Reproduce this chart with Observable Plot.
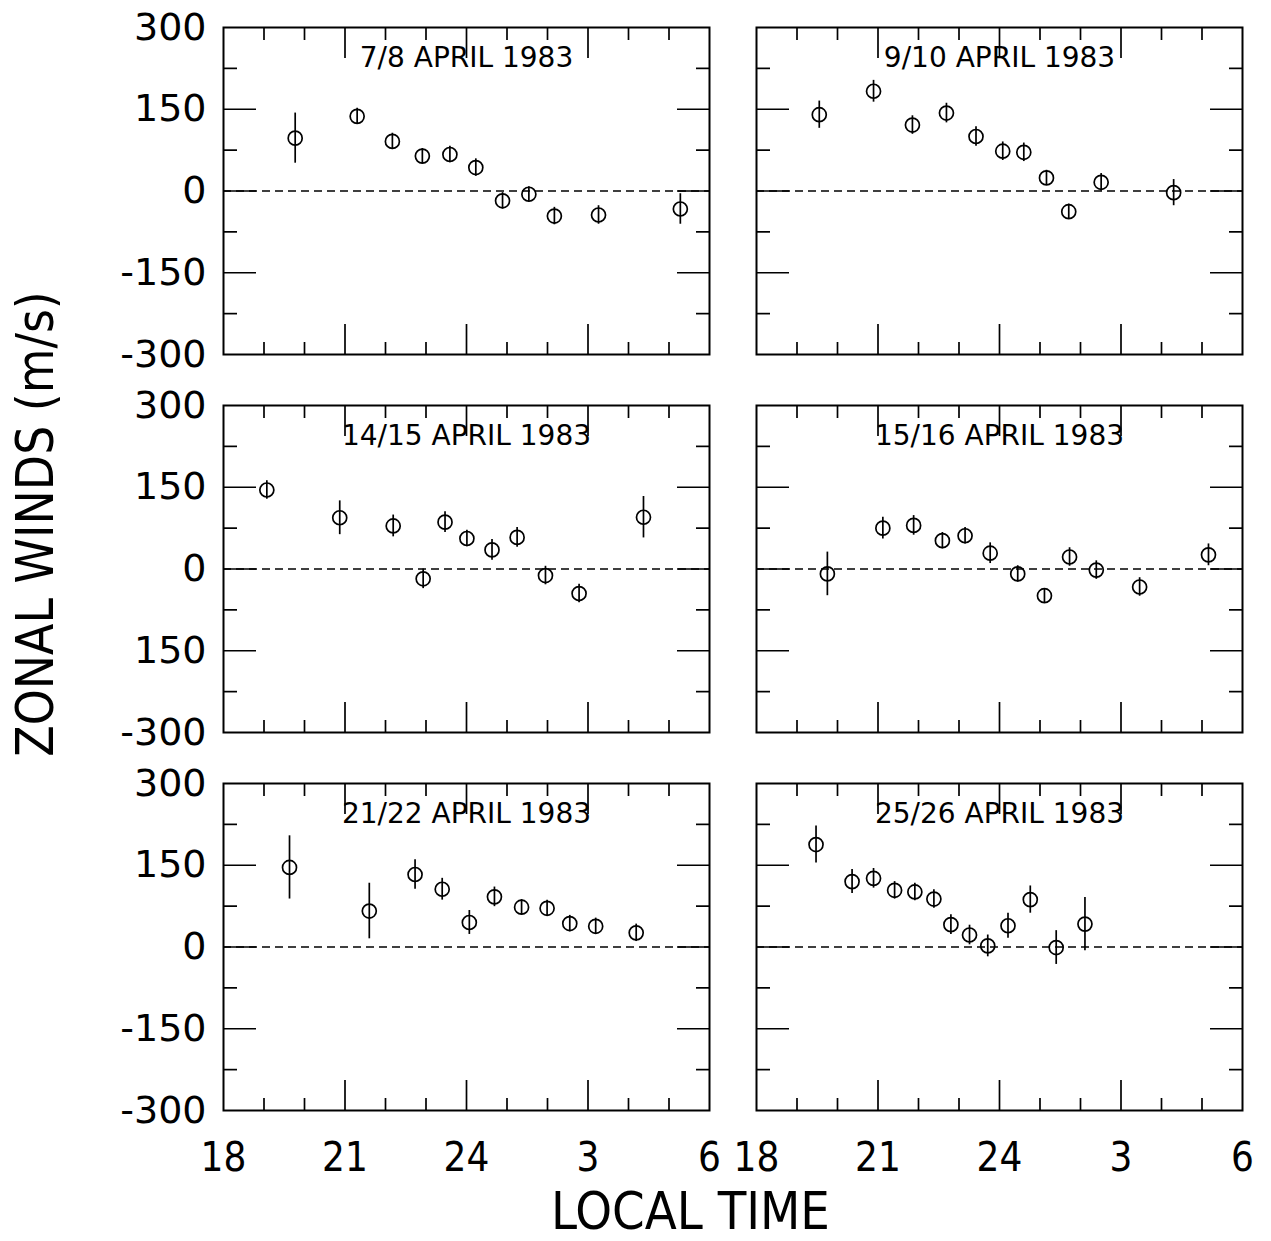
<!DOCTYPE html>
<html><head><meta charset="utf-8">
<script src="https://cdn.jsdelivr.net/npm/d3@7"></script>
<script src="https://cdn.jsdelivr.net/npm/@observablehq/plot@0.6"></script>
<style>body{margin:0;background:#fff}</style>
</head><body><div id="chart"></div>
<script>
// ---- panel titles and layout (column, row) ----
const panelTitles = ["7/8 APRIL 1983", "9/10 APRIL 1983", "14/15 APRIL 1983", "15/16 APRIL 1983", "21/22 APRIL 1983", "25/26 APRIL 1983"];
const panelCols = [0, 1, 0, 1, 0, 1];
const panelRows = [0, 0, 1, 1, 2, 2];

// ---- data: local time (hours, 24 = midnight), zonal wind (m/s), error bar half-length ----
const time_7_8   = [19.77, 21.30, 22.17, 22.91, 23.59, 24.23, 24.89, 25.54, 26.17, 27.26, 29.28];
const wind_7_8   = [97, 137, 91, 64, 67, 43, -18, -6, -46, -44, -33];
const err_7_8    = [46, 15, 15, 14, 15, 16, 15, 14, 16, 17, 28];

const time_9_10  = [19.55, 20.89, 21.85, 22.69, 23.42, 24.08, 24.60, 25.16, 25.71, 26.51, 28.30];
const wind_9_10  = [140, 183, 121, 143, 100, 73, 71, 24, -38, 16, -3];
const err_9_10   = [25, 20, 17, 18, 18, 17, 17, 14, 14, 16, 24];

const time_14_15 = [19.07, 20.87, 22.19, 22.93, 23.47, 24.01, 24.63, 25.25, 25.95, 26.78, 28.37];
const wind_14_15 = [145, 94, 79, -18, 86, 56, 35, 58, -12, -45, 95];
const err_14_15  = [17, 31, 20, 18, 19, 15, 19, 18, 17, 17, 38];

const time_15_16 = [19.75, 21.12, 21.88, 22.59, 23.15, 23.77, 24.45, 25.11, 25.73, 26.39, 27.46, 29.16];
const wind_15_16 = [-9, 75, 80, 52, 61, 29, -9, -49, 22, -2, -33, 26];
const err_15_16  = [40, 20, 18, 15, 15, 19, 15, 13, 17, 17, 17, 20];

const time_21_22 = [19.63, 21.60, 22.73, 23.40, 24.07, 24.69, 25.36, 25.99, 26.55, 27.19, 28.19];
const wind_21_22 = [146, 66, 133, 106, 45, 92, 73, 71, 43, 38, 26];
const err_21_22  = [58, 51, 27, 20, 22, 18, 14, 15, 15, 15, 16];

const time_25_26 = [19.47, 20.36, 20.89, 21.41, 21.91, 22.38, 22.80, 23.26, 23.71, 24.21, 24.76, 25.40, 26.11];
const wind_25_26 = [188, 120, 126, 104, 101, 88, 41, 22, 2, 39, 87, -1, 42];
const err_25_26  = [34, 22, 18, 16, 16, 17, 18, 18, 20, 23, 25, 31, 49];

// ---- axis ticks and labels ----
const xTickValues = [18, 21, 24, 27, 30];
const xTickLabels = ["18", "21", "24", "3", "6"];
const xMajorTicks = [21, 24, 27];
const xMinorTicks = [19, 20, 22, 23, 25, 26, 28, 29];
const yTickValues = [300, 150, 0, -150, -300];
const yTickLabelsTop = ["300", "150", "0", "-150", "-300"];
const yTickLabelsMid = ["300", "150", "0", "150", "-300"];
const yTickLabelsBot = ["300", "150", "0", "-150", "-300"];
const yMajorTicks = [150, 0, -150];
const yMinorTicks = [225, 75, -75, -225];
const yTitle = "ZONAL WINDS (m/s)";
const xTitle = "LOCAL TIME";

// ---- build tables ----
const series = [
  [time_7_8, wind_7_8, err_7_8],
  [time_9_10, wind_9_10, err_9_10],
  [time_14_15, wind_14_15, err_14_15],
  [time_15_16, wind_15_16, err_15_16],
  [time_21_22, wind_21_22, err_21_22],
  [time_25_26, wind_25_26, err_25_26]
];
const points = [];
series.forEach(([t, w, e], p) => {
  t.forEach((x, i) => points.push({col: panelCols[p], row: panelRows[p], time: x, wind: w[i], err: e[i]}));
});
const titles = panelTitles.map((t, p) => ({col: panelCols[p], row: panelRows[p], label: t}));
const yLabelRows = [];
[yTickLabelsTop, yTickLabelsMid, yTickLabelsBot].forEach((labels, r) => {
  yTickValues.forEach((v, i) => yLabelRows.push({col: 0, row: r, value: v, label: labels[i]}));
});

const narrow = "'Liberation Sans Narrow', 'DejaVu Sans Condensed', 'Liberation Sans', sans-serif";
const lw = 1.7;

const tickAxis = (axis, anchor, ticks, size) => axis({
  anchor, ticks, tickSize: size, facetAnchor: null, fill: "none", label: null,
  stroke: "black", strokeWidth: lw
});

const chart = Plot.plot({
  width: 1271,
  height: 1241,
  marginLeft: 222,
  marginRight: 28,
  marginTop: 27,
  marginBottom: 131,
  style: {fontFamily: "'DejaVu Sans', sans-serif", color: "black", background: "white"},
  x: {domain: [18, 30], axis: null, label: null},
  y: {domain: [-300, 300], axis: null, label: null},
  fx: {domain: [0, 1], paddingInner: 0.088, paddingOuter: 0, axis: null, label: null},
  fy: {domain: [0, 1, 2], paddingInner: 0.135, paddingOuter: 0, axis: null, label: null},
  marks: [
    Plot.ruleY([0], {stroke: "black", strokeWidth: 1.5, strokeDasharray: "8,5"}),
    tickAxis(Plot.axisX, "bottom", xMajorTicks, -30),
    tickAxis(Plot.axisX, "bottom", xMinorTicks, -12),
    tickAxis(Plot.axisX, "top", xMajorTicks, -30),
    tickAxis(Plot.axisX, "top", xMinorTicks, -12),
    tickAxis(Plot.axisY, "left", yMajorTicks, -33),
    tickAxis(Plot.axisY, "left", yMinorTicks, -14),
    tickAxis(Plot.axisY, "right", yMajorTicks, -33),
    tickAxis(Plot.axisY, "right", yMinorTicks, -14),
    Plot.frame({stroke: "black", strokeWidth: 2}),
    Plot.axisX({
      anchor: "bottom", ticks: xTickValues, tickSize: 0, tickPadding: 32, label: null,
      tickFormat: d => xTickLabels[xTickValues.indexOf(d)],
      fontSize: 40, fontFamily: narrow, fill: "black"
    }),
    Plot.text(yLabelRows, {
      fx: "col", fy: "row", y: "value", text: "label", frameAnchor: "left",
      dx: -17, textAnchor: "end", lineAnchor: "middle", fontSize: 38, fill: "black"
    }),
    Plot.text(titles, {
      fx: "col", fy: "row", text: "label", frameAnchor: "top", dy: 31,
      lineAnchor: "middle", fontSize: 28, fill: "black"
    }),
    Plot.ruleX(points, {
      fx: "col", fy: "row", x: "time", y1: d => d.wind - d.err, y2: d => d.wind + d.err,
      stroke: "black", strokeWidth: lw
    }),
    Plot.dot(points, {
      fx: "col", fy: "row", x: "time", y: "wind", r: 7, stroke: "black", fill: "none", strokeWidth: lw
    }),
    Plot.text([{col: 0, row: 1, label: yTitle}], {
      fx: "col", fy: "row", text: "label", frameAnchor: "left", rotate: -90,
      dx: -187, dy: -45, textAnchor: "middle", lineAnchor: "middle",
      fontSize: 51, fontFamily: narrow, fill: "black"
    }),
    Plot.text([{col: 0, row: 2, label: xTitle}], {
      fx: "col", fy: "row", text: "label", frameAnchor: "bottom-right",
      dx: -19, dy: 102, textAnchor: "middle", lineAnchor: "middle",
      fontSize: 52, fontFamily: narrow, fill: "black"
    })
  ]
});
document.getElementById("chart").appendChild(chart);
</script></body></html>
